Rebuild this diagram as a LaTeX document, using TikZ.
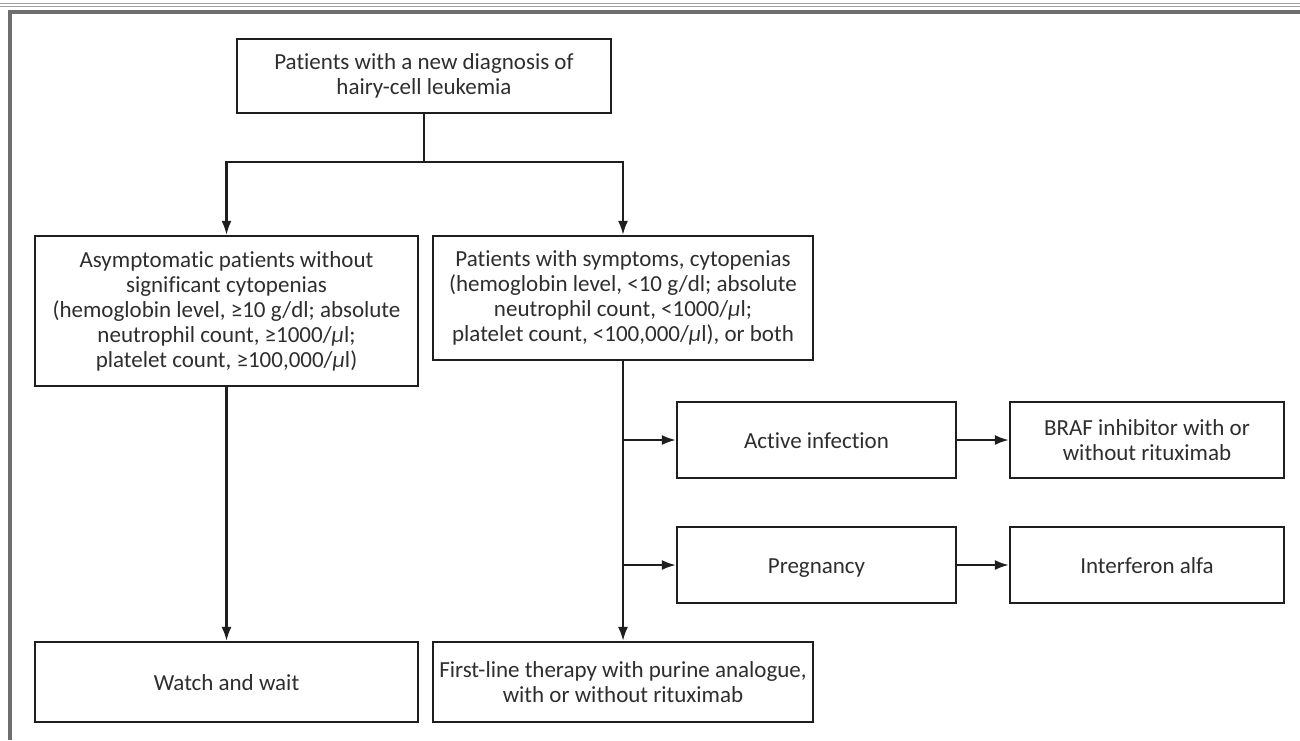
\documentclass[tikz,border=0pt]{standalone}
\usepackage{fontspec}
\setmainfont{Carlito}[Ligatures=NoCommon]
\usetikzlibrary{arrows.meta}
\definecolor{frame}{HTML}{6E6E6E}
\definecolor{rule}{HTML}{A0A0A0}
\definecolor{ink}{HTML}{1E1E1E}
\definecolor{txt}{HTML}{2E2E2E}
\begin{document}
\begin{tikzpicture}[x=1pt,y=-1pt,
  box/.style={draw=ink,line width=2.2pt,fill=white,align=center,text=txt,
    font=\fontsize{23}{25}\selectfont,inner sep=0pt},
  oneline/.style={box,text height=17pt,text depth=1pt},
  conn/.style={draw=ink,line width=2.2pt},
  arr/.style={conn,-{Latex[length=14pt,width=10pt]}}]
\useasboundingbox (0,0) rectangle (1300,740);
% outer frame and top rule
\fill[white] (0,0) rectangle (1300,740);
\draw[rule,line width=1pt] (0,3.5) -- (1300,3.5);
\draw[rule,line width=0.6pt] (0,6) -- (1300,6);
\draw[frame,line width=4pt] (10,740) -- (10,12) -- (1300,12);

% boxes
\node[box,minimum width=374pt,minimum height=74pt] (dx) at (424,76)
  {Patients with a new diagnosis of\\hairy-cell leukemia};
\node[box,minimum width=383pt,minimum height=150pt] (asym) at (226.5,311)
  {Asymptomatic patients without\\significant cytopenias\\(hemoglobin level, ≥10 g/dl; absolute\\neutrophil count, ≥1000/\textit{μ}l;\\platelet count, ≥100,000/\textit{μ}l)};
\node[box,minimum width=380pt,minimum height=124pt] (sym) at (623,298)
  {Patients with symptoms, cytopenias\\(hemoglobin level, <10 g/dl; absolute\\neutrophil count, <1000/\textit{μ}l;\\platelet count, <100,000/\textit{μ}l), or both};
\node[oneline,minimum width=279pt,minimum height=76pt] (inf) at (816.5,440)
  {Active infection};
\node[box,minimum width=274pt,minimum height=76pt] (braf) at (1147,440)
  {BRAF inhibitor with or\\without rituximab};
\node[oneline,minimum width=279pt,minimum height=76pt] (preg) at (816.5,565)
  {Pregnancy};
\node[oneline,minimum width=274pt,minimum height=76pt] (ifn) at (1147,565)
  {Interferon alfa};
\node[oneline,minimum width=383pt,minimum height=80pt] (watch) at (226.5,682)
  {Watch and wait};
\node[box,minimum width=380pt,minimum height=80pt] (first) at (623,682)
  {First-line therapy with purine analogue,\\with or without rituximab};

% connectors
\coordinate (split) at (dx.south |- 0,162);
\draw[conn] (dx.south) -- (split);
\draw[arr] (split) -| (asym.north);
\draw[arr] (split) -| (sym.north);
\draw[arr] (asym.south) -- (watch.north);
\draw[arr] (sym.south) -- (first.north);
\coordinate (b1) at (sym.south |- inf.west);
\coordinate (b2) at (sym.south |- preg.west);
\draw[arr] (b1) -- (inf.west);
\draw[arr] (b2) -- (preg.west);
\draw[arr] (inf.east) -- (braf.west);
\draw[arr] (preg.east) -- (ifn.west);
\end{tikzpicture}
\end{document}
